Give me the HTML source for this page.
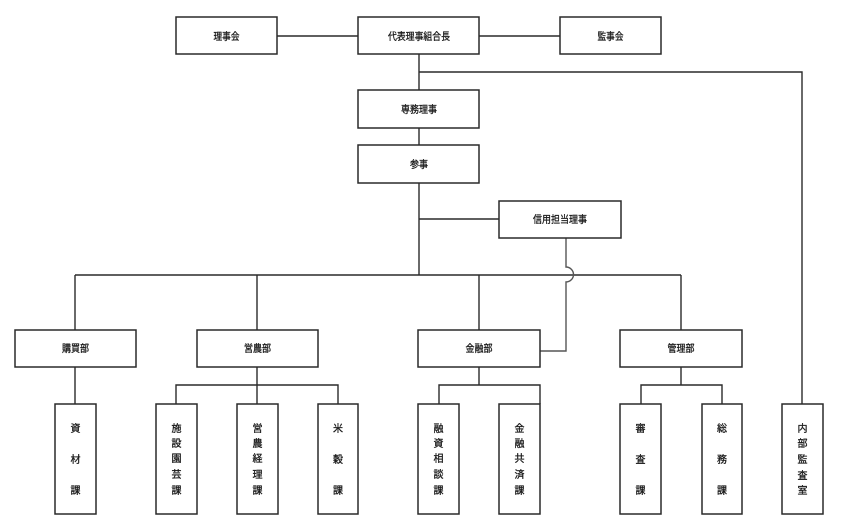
<!DOCTYPE html>
<html><head><meta charset="utf-8"><style>
html,body{margin:0;padding:0;background:#fff;}
svg{display:block;}
text{font-family:"Liberation Sans","Noto Sans CJK JP",sans-serif;font-size:10px;fill:#1a1a1a;stroke:#1a1a1a;stroke-width:0.3;}
</style></head><body>
<svg width="844" height="517" viewBox="0 0 844 517" xmlns="http://www.w3.org/2000/svg">
<g fill="none" stroke="#2a2a2a" stroke-width="1.4">
<line x1="277" y1="36" x2="358" y2="36"/>
<line x1="479" y1="36" x2="560" y2="36"/>
<line x1="419" y1="54" x2="419" y2="90"/>
<polyline points="419,72 802,72 802,404"/>
<line x1="419" y1="128" x2="419" y2="145"/>
<line x1="419" y1="183" x2="419" y2="275"/>
<line x1="419" y1="219" x2="499" y2="219"/>
<line x1="75" y1="275" x2="681" y2="275"/>
<line x1="75" y1="275" x2="75" y2="330"/>
<line x1="257" y1="275" x2="257" y2="330"/>
<line x1="479" y1="275" x2="479" y2="330"/>
<line x1="681" y1="275" x2="681" y2="330"/>
<line x1="75" y1="367" x2="75" y2="404"/>
<line x1="257" y1="367" x2="257" y2="404"/>
<polyline points="176,404 176,385 338,385 338,404"/>
<line x1="479" y1="367" x2="479" y2="385"/>
<polyline points="439,404 439,385 540,385 540,404"/>
<line x1="681" y1="367" x2="681" y2="385"/>
<polyline points="641,404 641,385 722,385 722,404"/>
</g>
<path d="M566,238 L566,267 A7.5,7.5 0 0 1 566,282 L566,351 L540,351" fill="none" stroke="#555" stroke-width="1.4"/>
<g fill="#fff" stroke="#2a2a2a" stroke-width="1.5">
<rect x="176" y="17" width="101" height="37"/>
<rect x="358" y="17" width="121" height="37"/>
<rect x="560" y="17" width="101" height="37"/>
<rect x="358" y="90" width="121" height="38"/>
<rect x="358" y="145" width="121" height="38"/>
<rect x="499" y="201" width="122" height="37"/>
<rect x="15" y="330" width="121" height="37"/>
<rect x="197" y="330" width="121" height="37"/>
<rect x="418" y="330" width="122" height="37"/>
<rect x="620" y="330" width="122" height="37"/>
<rect x="55" y="404" width="41" height="110"/>
<rect x="156" y="404" width="41" height="110"/>
<rect x="237" y="404" width="41" height="110"/>
<rect x="318" y="404" width="40" height="110"/>
<rect x="418" y="404" width="41" height="110"/>
<rect x="499" y="404" width="41" height="110"/>
<rect x="620" y="404" width="41" height="110"/>
<rect x="702" y="404" width="40" height="110"/>
<rect x="782" y="404" width="41" height="110"/>
</g>
<g text-anchor="middle">
<text x="226.5" y="40" textLength="26" lengthAdjust="spacingAndGlyphs">理事会</text>
<text x="419" y="40" textLength="62" lengthAdjust="spacingAndGlyphs">代表理事組合長</text>
<text x="610.5" y="40" textLength="26" lengthAdjust="spacingAndGlyphs">監事会</text>
<text x="419" y="113" textLength="36" lengthAdjust="spacingAndGlyphs">専務理事</text>
<text x="419" y="168" textLength="18" lengthAdjust="spacingAndGlyphs">参事</text>
<text x="560" y="223" textLength="54" lengthAdjust="spacingAndGlyphs">信用担当理事</text>
<text x="75.5" y="352" textLength="27" lengthAdjust="spacingAndGlyphs">購買部</text>
<text x="257.5" y="352" textLength="27" lengthAdjust="spacingAndGlyphs">営農部</text>
<text x="479" y="352" textLength="27" lengthAdjust="spacingAndGlyphs">金融部</text>
<text x="681" y="352" textLength="27" lengthAdjust="spacingAndGlyphs">管理部</text>
<text x="75.5" y="432">資</text><text x="75.5" y="463">材</text><text x="75.5" y="494">課</text>
<text x="176.5" y="432">施</text><text x="176.5" y="447">設</text><text x="176.5" y="462">園</text><text x="176.5" y="478">芸</text><text x="176.5" y="494">課</text>
<text x="257.5" y="432">営</text><text x="257.5" y="447">農</text><text x="257.5" y="462">経</text><text x="257.5" y="478">理</text><text x="257.5" y="494">課</text>
<text x="338" y="432">米</text><text x="338" y="463">穀</text><text x="338" y="494">課</text>
<text x="438.5" y="432">融</text><text x="438.5" y="447">資</text><text x="438.5" y="462">相</text><text x="438.5" y="478">談</text><text x="438.5" y="494">課</text>
<text x="519.5" y="432">金</text><text x="519.5" y="447">融</text><text x="519.5" y="462">共</text><text x="519.5" y="478">済</text><text x="519.5" y="494">課</text>
<text x="640.5" y="432">審</text><text x="640.5" y="463">査</text><text x="640.5" y="494">課</text>
<text x="722" y="432">総</text><text x="722" y="463">務</text><text x="722" y="494">課</text>
<text x="802.5" y="432">内</text><text x="802.5" y="447">部</text><text x="802.5" y="463">監</text><text x="802.5" y="479">査</text><text x="802.5" y="494">室</text>
</g>
</svg>
</body></html>
